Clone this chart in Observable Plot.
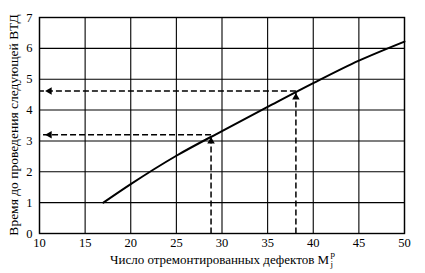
<!DOCTYPE html>
<html>
<head>
<meta charset="utf-8">
<script src="https://cdn.jsdelivr.net/npm/d3@7"></script>
<script src="https://cdn.jsdelivr.net/npm/@observablehq/plot@0.6"></script>
<style>
  html, body { margin: 0; padding: 0; background: #fff; }
  #chart { width: 425px; height: 273px; }
</style>
</head>
<body>
<div id="chart"></div>
<script>
// Curve: repaired defects count vs time to next in-line inspection
const defects = [17, 20, 25, 30, 35, 40, 45, 50];
const timeToNext = [1.0, 1.6, 2.52, 3.32, 4.1, 4.87, 5.6, 6.22];

// Reading examples (dashed arrows)
const exampleX = [28.8, 38.1];
const exampleY = [3.2, 4.62];

const xTicks = [10, 15, 20, 25, 30, 35, 40, 45, 50];
const yTicks = [0, 1, 2, 3, 4, 5, 6, 7];

const yLabel = "Время до проведения следующей ВТД";
const xLabel = "Число отремонтированных дефектов";
const xSym = "M", xSub = "j", xSup = "p";

const curve = defects.map((d, i) => ({x: d, y: timeToNext[i]}));
const ex = exampleX.map((d, i) => ({x: d, y: exampleY[i]}));

const FONT = "Liberation Serif";
const W = 425, H = 273;
const chart = Plot.plot({
  width: W,
  height: H,
  marginLeft: 39,
  marginRight: 21,
  marginTop: 17,
  marginBottom: 40,
  style: {fontFamily: FONT, fontSize: "12px", color: "#000", background: "#fff"},
  x: {domain: [10, 50], ticks: xTicks, label: null},
  y: {domain: [0, 7], ticks: yTicks, label: null},
  marks: [
    Plot.gridX(xTicks, {stroke: "#000", strokeOpacity: 1, strokeWidth: 1.1}),
    Plot.gridY(yTicks, {stroke: "#000", strokeOpacity: 1, strokeWidth: 1.1}),
    Plot.frame({stroke: "#000", strokeWidth: 1.4}),
    Plot.axisX(xTicks, {tickSize: 0, tickPadding: 5, fontSize: 12.5, label: null}),
    Plot.axisY(yTicks, {tickSize: 0, tickPadding: 7, fontSize: 12.5, label: null}),
    // dashed verticals from axis up to curve
    Plot.link(ex, {x1: "x", y1: 0, x2: "x", y2: "y", stroke: "#000", strokeWidth: 1.5, strokeDasharray: "6,3"}),
    // dashed horizontals from curve to y axis
    Plot.link(ex, {x1: "x", y1: "y", x2: 10, y2: "y", stroke: "#000", strokeWidth: 1.5, strokeDasharray: "6,3"}),
    // arrowheads: up
    Plot.dot(ex, {x: "x", y: "y", symbol: "triangle2", r: 3.6, fill: "#000", stroke: "none", dy: 6.5}),
    // arrowheads: left
    Plot.dot(ex, {x: 10, y: "y", symbol: "triangle2", r: 3.6, fill: "#000", stroke: "none", rotate: -90, dx: 10}),
    Plot.line(curve, {x: "x", y: "y", stroke: "#000", strokeWidth: 2, curve: "monotone-x"})
  ]
});
document.getElementById("chart").appendChild(chart);

const svg = d3.select(chart);
svg.attr("font-family", FONT).style("font-family", FONT);
// y axis title
svg.append("text")
  .attr("transform", "translate(17.5,125) rotate(-90)")
  .attr("text-anchor", "middle")
  .attr("font-size", 13.5)
  .attr("fill", "#000")
  .text(yLabel);
// x axis title
const xt = svg.append("text")
  .attr("x", 110).attr("y", 264)
  .attr("text-anchor", "start")
  .attr("font-size", 13)
  .attr("fill", "#000")
  .text(xLabel + " " + xSym);
svg.selectAll("text").attr("font-family", FONT).style("font-family", FONT);
const bb = xt.node().getBBox();
const endX = bb.x + bb.width + 1;
svg.append("text")
  .attr("x", endX).attr("y", 267)
  .attr("text-anchor", "start")
  .attr("font-size", 9).attr("fill", "#000")
  .attr("font-family", FONT).style("font-family", FONT)
  .text(xSub);
svg.append("text")
  .attr("x", endX).attr("y", 257)
  .attr("text-anchor", "start")
  .attr("font-size", 9).attr("fill", "#000")
  .attr("font-family", FONT).style("font-family", FONT)
  .text(xSup);
</script>
</body>
</html>
